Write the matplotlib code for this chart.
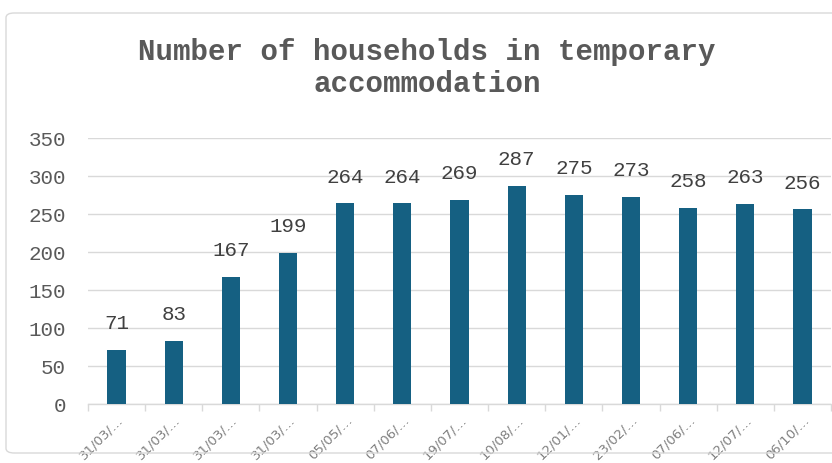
import matplotlib.pyplot as plt
from matplotlib.patches import FancyBboxPatch

dates = ["31/03/…", "31/03/…", "31/03/…", "31/03/…", "05/05/…", "07/06/…", "19/07/…",
         "10/08/…", "12/01/…", "23/02/…", "07/06/…", "12/07/…", "06/10/…"]
households = [71, 83, 167, 199, 264, 264, 269, 287, 275, 273, 258, 263, 256]

bar_col = "#156082"
grid_col = "#d9d9d9"

fig = plt.figure(figsize=(8.32, 4.63), dpi=100)
# chart border like the spreadsheet chart area
fig.patches.append(FancyBboxPatch((6 / 832, 10 / 463), 840 / 832, 440 / 463,
                                  boxstyle="round,pad=0,rounding_size=0.01",
                                  transform=fig.transFigure, fill=False,
                                  edgecolor=grid_col, linewidth=1))

ax = fig.add_axes([88 / 832, 1 - 404 / 463, 743 / 832, (404 - 138) / 463])
x = list(range(len(households)))
ax.bar(x, households, width=0.32, color=bar_col, zorder=3)
for xi, v in zip(x, households):
    ax.annotate(str(v), (xi, v), xytext=(0, 12), textcoords="offset points",
                ha="center", va="bottom", fontsize=15,
                family="Liberation Mono", color="#404040")

ax.set_xlim(-0.5, len(households) - 0.5)
ax.set_ylim(0, 350)
ax.set_yticks(range(0, 351, 50))
ax.set_yticklabels([str(t) for t in range(0, 351, 50)], family="Liberation Mono",
                   fontsize=15, color="#595959")
ax.yaxis.grid(True, color=grid_col, linewidth=1, zorder=0)
ax.tick_params(axis="y", length=0, pad=16)

ax.set_xticks(x)
ax.set_xticklabels(dates, rotation=45, ha="right", rotation_mode="anchor",
                   fontsize=9.5, color="#7f7f7f", family="DejaVu Sans")
ax.tick_params(axis="x", length=0, pad=7)
# category boundary ticks
ax.set_xticks([i - 0.5 for i in range(len(households) + 1)], minor=True)
ax.tick_params(axis="x", which="minor", length=5, color=grid_col, width=1)

for s in ["top", "right", "left"]:
    ax.spines[s].set_visible(False)
ax.spines["bottom"].set_color(grid_col)
ax.spines["bottom"].set_linewidth(1)

fig.text(427 / 832, 1 - 68 / 463, "Number of households in temporary\naccommodation",
         ha="center", va="center", fontsize=21, fontweight="bold",
         family="Liberation Mono", color="#595959", linespacing=1.15)

fig.savefig("out.png", dpi=100)
